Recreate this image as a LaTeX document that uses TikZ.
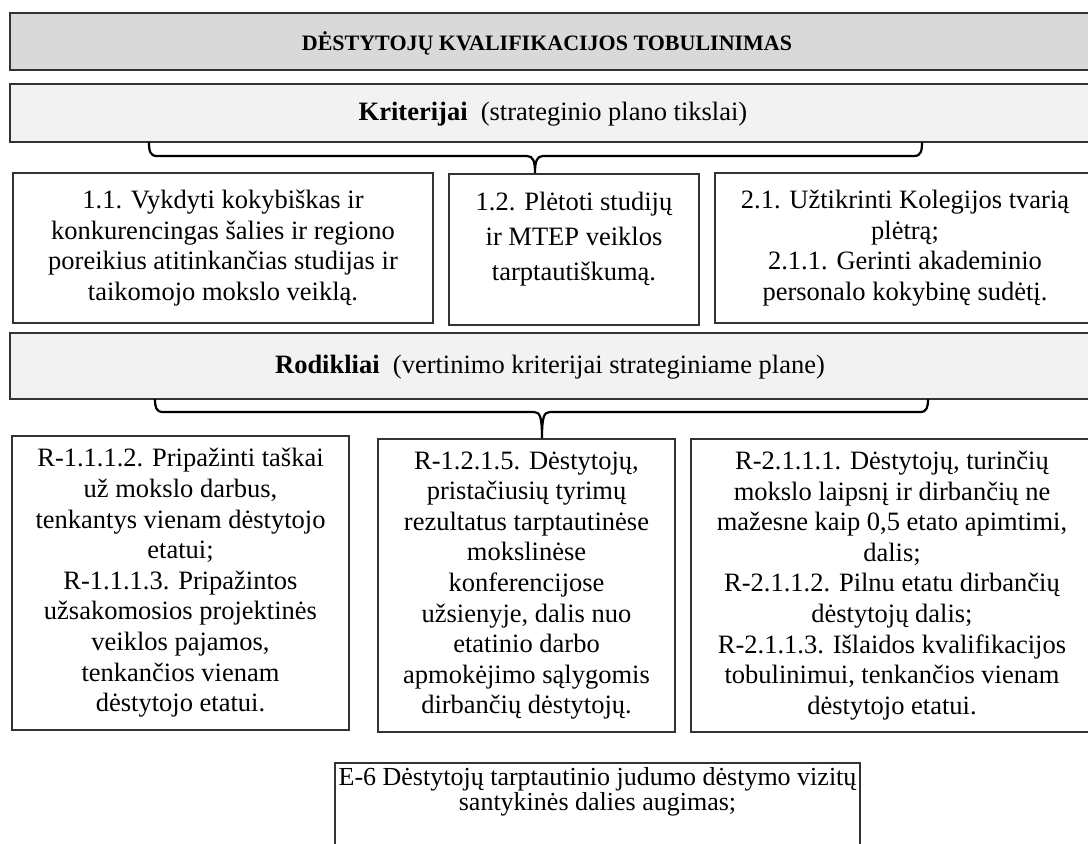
\documentclass[tikz,border=0pt]{standalone}
\usepackage{fontspec}
\setmainfont{Liberation Serif}
\newcommand\bodysize{\fontsize{26.5}{30.6}\selectfont}
\begin{document}
\begin{tikzpicture}[x=1pt,y=-1pt,
  box/.style={draw=black!80, line width=1.1pt, inner sep=0pt},
  band/.style={box, fill=black!5},
  txt/.style={align=center, inner sep=0pt, font=\bodysize},
  bracket/.style={draw=black, line width=2.2pt, line join=round}]
\useasboundingbox (0,0) rectangle (1088,844);
\clip (0,0) rectangle (1088,844);

% title band
\node[box, fill=black!15, minimum width=1085, minimum height=57] (title) at (552.5,41.5) {};
\node[inner sep=0pt, font=\bfseries\fontsize{22}{25}\selectfont] (title-t) at (547,43) {DĖSTYTOJŲ KVALIFIKACIJOS TOBULINIMAS};

% criteria band
\node[band, minimum width=1085, minimum height=58] (krit) at (552.5,113) {};
\node[txt] (krit-t) at (553,114) {\textbf{Kriterijai}\ \ (strateginio plano tikslai)};

% brace under the criteria band
\draw[bracket] (149,142) .. controls (149,151) and (150,156) .. (157,156) -- (527,156)
  .. controls (533,156) and (535,161) .. (535,173)
  .. controls (535,161) and (537,156) .. (543,156) -- (914,156)
  .. controls (921,156) and (922,151) .. (922,142);

% strategic goals
\node[box, minimum width=420, minimum height=150] (c11) at (223,248) {};
\node[txt] (c11-t) at (c11.center) {1.1. Vykdyti kokybiškas ir\\konkurencingas šalies ir regiono\\poreikius atitinkančias studijas ir\\taikomojo mokslo veiklą.};
\node[box, minimum width=250, minimum height=151] (c12) at (574,249.5) {};
\node[txt, anchor=north, font=\fontsize{26.5}{35}\selectfont] (c12-t) at (574,192) {1.2. Plėtoti studijų\\ir MTEP veiklos\\tarptautiškumą.};
\node[box, minimum width=380, minimum height=150] (c21) at (905,248) {};
\node[txt] (c21-t) at (c21.center) {2.1. Užtikrinti Kolegijos tvarią\\plėtrą;\\2.1.1. Gerinti akademinio\\personalo kokybinę sudėtį.};

% indicators band
\node[band, minimum width=1085, minimum height=66] (rod) at (552.5,366) {};
\node[txt] (rod-t) at (550,367) {\textbf{Rodikliai}\ \ (vertinimo kriterijai strateginiame plane)};

% brace under the indicators band
\draw[bracket] (155,399) .. controls (155,407) and (156,412) .. (163,412) -- (534,412)
  .. controls (540,412) and (542,417) .. (542,438)
  .. controls (542,417) and (544,412) .. (550,412) -- (920,412)
  .. controls (927,412) and (928,407) .. (928,399);

% indicators
\node[box, minimum width=337, minimum height=294] (r1) at (180.5,583) {};
\node[txt] (r1-t) at (r1.center) {R-1.1.1.2. Pripažinti taškai\\už mokslo darbus,\\tenkantys vienam dėstytojo\\etatui;\\R-1.1.1.3. Pripažintos\\užsakomosios projektinės\\veiklos pajamos,\\tenkančios vienam\\dėstytojo etatui.};
\node[box, minimum width=297, minimum height=293] (r2) at (526.5,585.5) {};
\node[txt] (r2-t) at (r2.center) {R-1.2.1.5. Dėstytojų,\\pristačiusių tyrimų\\rezultatus tarptautinėse\\mokslinėse\\konferencijose\\užsienyje, dalis nuo\\etatinio darbo\\apmokėjimo sąlygomis\\dirbančių dėstytojų.};
\node[box, minimum width=402, minimum height=293] (r3) at (892,585.5) {};
\node[txt] (r3-t) at (r3.center) {R-2.1.1.1. Dėstytojų, turinčių\\mokslo laipsnį ir dirbančių ne\\mažesne kaip 0,5 etato apimtimi,\\dalis;\\R-2.1.1.2. Pilnu etatu dirbančių\\dėstytojų dalis;\\R-2.1.1.3. Išlaidos kvalifikacijos\\tobulinimui, tenkančios vienam\\dėstytojo etatui.};

% evaluation indicator
\node[box, minimum width=525, minimum height=110] (e6) at (597.5,818) {};
\node[txt, anchor=north, font=\fontsize{26}{25}\selectfont] (e6-t) at (597.5,767) {E-6 Dėstytojų tarptautinio judumo dėstymo vizitų\\santykinės dalies augimas;};
\end{tikzpicture}
\end{document}
